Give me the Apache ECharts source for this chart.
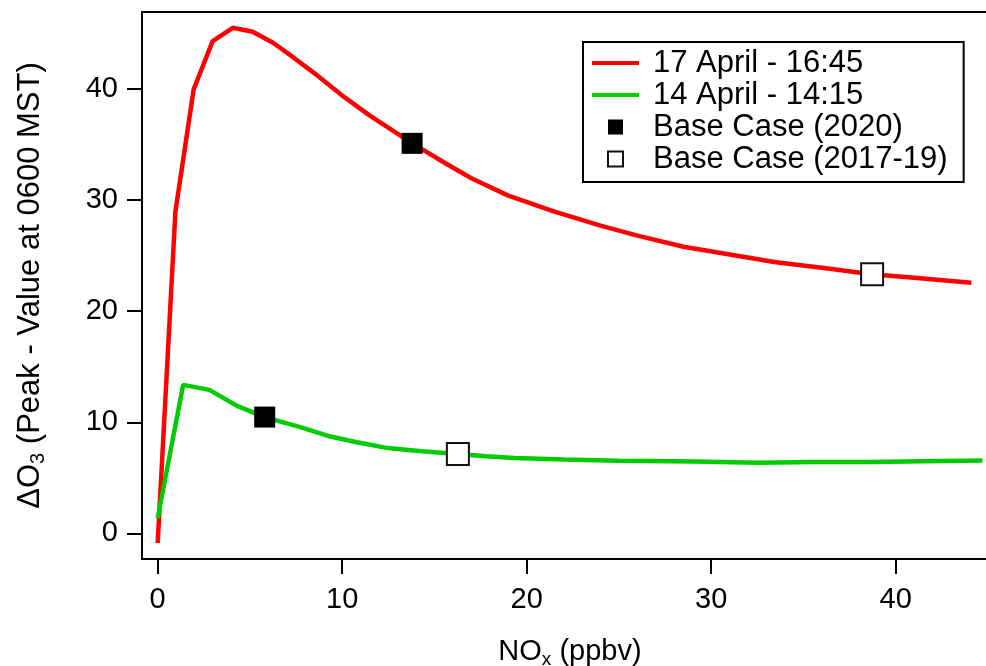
<!DOCTYPE html>
<html>
<head>
<meta charset="utf-8">
<title>Ozone response to NOx</title>
<script src="https://cdn.jsdelivr.net/npm/echarts@6/dist/echarts.min.js"></script>
<style>
  html, body { margin: 0; padding: 0; background: #fff; }
  #chart { width: 986px; height: 666px; }
</style>
</head>
<body>
<div id="chart"></div>
<script>
// NOx (ppbv) vs. ΔO3 peak increase, two modelled days
const redX   = [0, 0.96, 1.95, 2.98, 4.07, 5.15, 6.25, 7.3, 8.5, 10.0, 11.5, 13.8, 15.5, 17.0, 19.0, 21.5, 24.0, 26.0, 28.5, 31.0, 33.5, 36.0, 38.7, 41.0, 44.1];
const redY   = [-0.86, 28.96, 39.96, 44.3, 45.5, 45.15, 44.15, 42.9, 41.4, 39.4, 37.6, 35.1, 33.4, 31.96, 30.4, 28.96, 27.7, 26.8, 25.8, 25.1, 24.4, 23.9, 23.33, 23.0, 22.55];

const greenX = [0, 1.38, 2.8, 4.3, 5.8, 7.73, 9.36, 10.8, 12.48, 14.3, 16.27, 17.8, 19.35, 22.0, 25.0, 29.07, 32.6, 35.5, 38.56, 41.5, 44.7];
const greenY = [1.38, 13.37, 12.92, 11.48, 10.47, 9.57, 8.72, 8.2, 7.68, 7.4, 7.14, 6.95, 6.78, 6.65, 6.55, 6.48, 6.36, 6.42, 6.42, 6.5, 6.56];

// Base-case NOx levels marked on each curve
const base2020X = [13.79, 5.8];
const base2020Y = [35.1, 10.47];
const base1719X = [38.72, 16.27];
const base1719Y = [23.33, 7.14];

const seriesNames = ['17 April - 16:45', '14 April - 14:15', 'Base Case (2020)', 'Base Case (2017-19)'];
const xTicks = [0, 10, 20, 30, 40];
const yTicks = [0, 10, 20, 30, 40];

const zip = (xs, ys) => xs.map((x, i) => [x, ys[i]]);
const FONT = '"Liberation Sans", Arial, Helvetica, sans-serif';

const chart = echarts.init(document.getElementById('chart'), null, { renderer: 'canvas' });

chart.setOption({
  animation: false,
  backgroundColor: '#fff',
  textStyle: { fontFamily: FONT, color: '#000' },
  grid: {
    left: 142, top: 12, right: -2, bottom: 107,
    outerBoundsMode: 'none', containLabel: false,
    show: true, borderColor: '#000', borderWidth: 2, backgroundColor: 'transparent'
  },
  xAxis: {
    type: 'value',
    min: -0.85, max: 45,
    axisLine: { show: true, onZero: false, lineStyle: { color: '#000', width: 2 } },
    axisTick: { show: true, length: 15, lineStyle: { color: '#000', width: 2 }, customValues: xTicks },
    axisLabel: { fontSize: 29, color: '#000', margin: 26, fontFamily: FONT, customValues: xTicks },
    splitLine: { show: false },
    name: '{n|NO}{s|x}{n| (ppbv)}',
    nameLocation: 'middle',
    nameGap: 75,
    nameTextStyle: {
      padding: [0, 0, 0, 10],
      rich: {
        n: { fontSize: 29, fontFamily: FONT, color: '#000' },
        s: { fontSize: 19, fontFamily: FONT, color: '#000', verticalAlign: 'bottom', padding: [16, 0, 0, 0] }
      }
    }
  },
  yAxis: {
    type: 'value',
    min: -2.3, max: 46.92,
    axisLine: { show: true, onZero: false, lineStyle: { color: '#000', width: 2 } },
    axisTick: { show: true, length: 15, lineStyle: { color: '#000', width: 2 }, customValues: yTicks },
    axisLabel: { fontSize: 29, color: '#000', margin: 24, fontFamily: FONT, customValues: yTicks },
    splitLine: { show: false },
    name: '{n|ΔO}{s|3}{n| (Peak - Value at 0600 MST)}',
    nameLocation: 'middle',
    nameGap: 94,
    nameTextStyle: {
      rich: {
        n: { fontSize: 31, fontFamily: FONT, color: '#000' },
        s: { fontSize: 20, fontFamily: FONT, color: '#000', verticalAlign: 'bottom', padding: [16, 0, 0, 0] }
      }
    }
  },
  legend: {
    orient: 'vertical',
    left: 583, top: 42,
    padding: [5, 16, 7, 9],
    borderColor: '#000', borderWidth: 2,
    backgroundColor: '#fff',
    itemWidth: 47, itemHeight: 15, itemGap: 0,
    selectedMode: false,
    textStyle: { fontSize: 31, lineHeight: 32, color: '#000', fontFamily: FONT, padding: [0, 0, 0, 9] },
    data: [
      { name: seriesNames[0], icon: 'path://M0,0H47V4H0Z' },
      { name: seriesNames[1], icon: 'path://M0,0H47V4H0Z' },
      { name: seriesNames[2], icon: 'path://M0,0H15V15H0Z' },
      { name: seriesNames[3], icon: 'path://M0,0H15V15H0Z' }
    ]
  },
  series: [
    {
      name: seriesNames[0], type: 'line', data: zip(redX, redY),
      symbol: 'none', smooth: false,
      lineStyle: { color: '#ff0000', width: 4.5 }, itemStyle: { color: '#ff0000' },
      emphasis: { disabled: true }, z: 2
    },
    {
      name: seriesNames[1], type: 'line', data: zip(greenX, greenY),
      symbol: 'none', smooth: false,
      lineStyle: { color: '#00cc00', width: 4.5 }, itemStyle: { color: '#00cc00' },
      emphasis: { disabled: true }, z: 2
    },
    {
      name: seriesNames[2], type: 'scatter', data: zip(base2020X, base2020Y),
      symbol: 'rect', symbolSize: 21,
      itemStyle: { color: '#000', borderColor: '#000', borderWidth: 0, opacity: 1 },
      emphasis: { disabled: true }, z: 3
    },
    {
      name: seriesNames[3], type: 'scatter', data: zip(base1719X, base1719Y),
      symbol: 'rect', symbolSize: 22,
      itemStyle: { color: '#fff', borderColor: '#111', borderWidth: 2, opacity: 1 },
      emphasis: { disabled: true }, z: 3
    }
  ]
});
</script>
</body>
</html>
